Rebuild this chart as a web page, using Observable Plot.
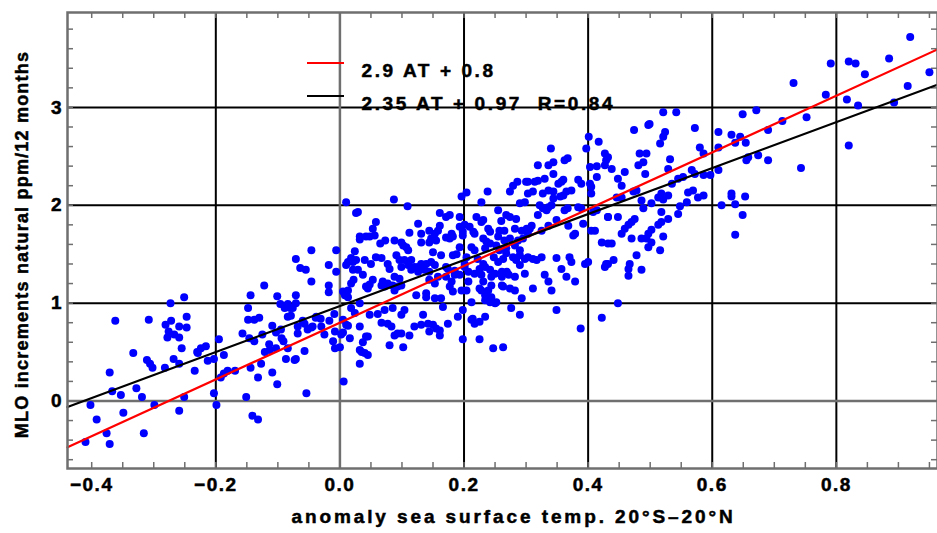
<!DOCTYPE html>
<html><head><meta charset="utf-8">
<script src="https://cdn.jsdelivr.net/npm/d3@7"></script>
<script src="https://cdn.jsdelivr.net/npm/@observablehq/plot@0.6"></script>
<style>
html,body{margin:0;padding:0;background:#fff;}
#chart{position:relative;width:937px;height:533px;}
</style></head><body><div id="chart"></div>
<script>
// anomaly sea surface temp (x) vs MLO increments natural ppm/12 months (y)
const pointsA = [[-0.410,-0.42],[-0.402,-0.04],[-0.392,-0.19],[-0.376,-0.33],[-0.371,-0.44],[-0.371,0.29],[-0.367,0.10],[-0.362,0.82],[-0.353,0.06],[-0.349,-0.12],[-0.333,0.49],[-0.328,0.13],[-0.319,0.04],[-0.316,-0.33],[-0.311,0.42],[-0.308,0.83],[-0.306,0.38],[-0.302,0.34],[-0.299,-0.04],[-0.282,0.34],[-0.273,1.00],[-0.281,0.78],[-0.272,0.82],[-0.276,0.71],[-0.278,0.65],[-0.267,0.68],[-0.259,0.65],[-0.259,0.76],[-0.251,1.06],[-0.247,0.86],[-0.247,0.75],[-0.255,0.54],[-0.268,0.43],[-0.259,0.38],[-0.259,-0.10],[-0.251,0.04],[-0.234,0.31],[-0.230,0.50],[-0.224,0.54],[-0.216,0.56],[-0.213,0.41],[-0.203,0.43],[-0.203,0.08],[-0.199,-0.04],[-0.229,0.49]];
const pointsB = [[-0.195,0.63],[-0.187,0.47],[-0.192,0.24],[-0.187,0.28],[-0.181,0.31],[-0.169,0.31],[-0.157,0.69],[-0.151,0.04],[-0.148,0.95],[-0.144,1.08],[-0.148,0.83],[-0.138,0.83],[-0.130,0.85],[-0.146,0.64],[-0.138,0.61],[-0.144,0.34],[-0.141,-0.15],[-0.132,-0.19],[-0.132,0.24],[-0.127,0.38],[-0.122,1.18],[-0.125,0.68],[-0.109,0.77],[-0.114,0.58],[-0.109,0.29],[-0.103,0.54],[-0.101,0.17],[-0.101,1.07],[-0.096,0.99],[-0.089,0.95],[-0.080,0.95],[-0.084,0.99],[-0.095,0.73],[-0.094,0.64],[-0.091,0.61],[-0.084,0.54],[-0.087,0.43],[-0.079,0.87],[-0.071,1.45],[-0.071,1.08],[-0.071,1.00],[-0.071,0.43],[-0.068,0.69],[-0.068,0.76],[-0.064,1.36],[-0.055,1.34],[-0.060,0.82],[-0.057,0.51],[-0.054,0.08],[-0.046,1.54],[-0.046,1.22],[-0.046,0.75],[-0.039,0.85],[-0.031,0.84],[-0.025,0.68],[-0.018,1.39],[-0.018,1.18],[-0.018,1.11],[-0.017,0.82],[-0.011,0.61],[-0.006,1.54],[-0.006,1.32],[-0.009,0.89],[-0.008,0.71],[-0.008,0.54],[-0.076,0.95],[-0.084,0.86],[-0.038,0.86],[-0.030,0.76],[-0.052,0.73],[-0.044,0.76],[-0.057,0.79],[-0.103,0.70],[-0.113,0.52],[-0.121,0.50],[-0.073,0.42]];
const pointsC = [[0.010,2.03],[0.026,1.92],[0.029,1.93],[0.032,1.68],[0.032,1.65],[0.024,1.53],[0.018,1.46],[0.013,1.42],[0.010,1.39],[0.021,1.42],[0.026,1.44],[0.040,1.44],[0.042,1.68],[0.021,1.34],[0.029,1.34],[0.037,1.29],[0.022,1.24],[0.018,1.20],[0.042,1.17],[0.005,1.12],[0.008,1.08],[0.013,1.06],[0.013,1.13],[0.032,1.00],[0.018,0.95],[0.024,0.90],[0.010,0.78],[0.013,0.77],[0.005,0.83],[0.032,0.76],[0.016,0.64],[0.042,0.66],[0.037,0.60],[0.005,0.70],[0.002,0.68],[0.032,0.52],[0.035,0.50],[0.040,0.49],[0.032,0.38],[0.006,0.20],[0.000,0.55]];
const pointsD = [[0.087,2.06],[0.109,1.99],[0.161,1.92],[0.171,1.88],[0.058,1.83],[0.126,1.81],[0.053,1.76],[0.056,1.69],[0.048,1.68],[0.161,1.79],[0.158,1.74],[0.144,1.74],[0.131,1.71],[0.153,1.71],[0.112,1.72],[0.065,1.61],[0.073,1.64],[0.088,1.64],[0.099,1.62],[0.107,1.57],[0.110,1.54],[0.102,1.59],[0.131,1.62],[0.147,1.66],[0.155,1.64],[0.144,1.62],[0.171,1.67],[0.150,1.52],[0.163,1.49],[0.058,1.47],[0.067,1.46],[0.050,1.40],[0.091,1.49],[0.077,1.40],[0.080,1.35],[0.096,1.44],[0.099,1.37],[0.104,1.44],[0.115,1.44],[0.110,1.39],[0.120,1.37],[0.126,1.37],[0.131,1.40],[0.139,1.40],[0.147,1.42],[0.153,1.39],[0.115,1.34],[0.126,1.32],[0.136,1.34],[0.144,1.32],[0.053,1.24],[0.069,1.22],[0.067,1.18],[0.072,1.17],[0.077,1.20],[0.085,1.18],[0.088,1.13],[0.093,1.17],[0.099,1.18],[0.088,1.27],[0.096,1.25],[0.045,1.15],[0.048,1.19],[0.158,1.27],[0.171,1.27],[0.144,1.24],[0.153,1.20],[0.123,1.08],[0.139,1.10],[0.139,1.06],[0.153,1.05],[0.163,1.05],[0.166,0.96],[0.048,0.88],[0.061,0.89],[0.072,0.93],[0.085,0.95],[0.067,0.80],[0.077,0.79],[0.083,0.76],[0.099,0.88],[0.104,0.93],[0.134,0.88],[0.131,0.78],[0.120,0.76],[0.142,0.79],[0.150,0.78],[0.155,0.74],[0.161,0.72],[0.144,0.71],[0.161,0.67],[0.088,0.67],[0.093,0.69],[0.099,0.69],[0.112,0.67],[0.102,0.55],[0.080,0.57],[0.045,0.66],[0.045,0.47],[0.171,1.37]];
const pointsE = [[0.196,2.09],[0.204,2.13],[0.238,2.14],[0.274,2.14],[0.279,2.20],[0.286,2.24],[0.300,2.24],[0.228,2.03],[0.290,2.02],[0.298,2.03],[0.177,1.90],[0.193,1.88],[0.255,1.95],[0.268,1.90],[0.260,1.84],[0.274,1.88],[0.284,1.86],[0.220,1.88],[0.228,1.83],[0.231,1.85],[0.193,1.78],[0.201,1.80],[0.209,1.78],[0.215,1.73],[0.198,1.73],[0.180,1.71],[0.239,1.76],[0.242,1.73],[0.257,1.74],[0.265,1.74],[0.282,1.76],[0.293,1.74],[0.301,1.76],[0.182,1.68],[0.177,1.66],[0.198,1.69],[0.217,1.71],[0.231,1.66],[0.236,1.63],[0.255,1.68],[0.265,1.64],[0.274,1.66],[0.287,1.64],[0.295,1.66],[0.193,1.57],[0.188,1.50],[0.182,1.49],[0.212,1.57],[0.217,1.54],[0.234,1.56],[0.252,1.59],[0.257,1.54],[0.268,1.56],[0.282,1.59],[0.290,1.54],[0.242,1.61],[0.204,1.47],[0.201,1.40],[0.222,1.45],[0.231,1.40],[0.248,1.47],[0.255,1.42],[0.263,1.45],[0.268,1.51],[0.279,1.47],[0.284,1.44],[0.290,1.49],[0.298,1.45],[0.303,1.47],[0.290,1.39],[0.174,1.35],[0.185,1.33],[0.185,1.29],[0.193,1.29],[0.201,1.37],[0.207,1.32],[0.217,1.30],[0.225,1.35],[0.234,1.37],[0.242,1.34],[0.228,1.29],[0.250,1.30],[0.261,1.27],[0.269,1.32],[0.272,1.29],[0.282,1.27],[0.261,1.32],[0.298,1.30],[0.180,1.22],[0.177,1.17],[0.182,1.12],[0.196,1.13],[0.207,1.22],[0.231,1.22],[0.244,1.27],[0.225,1.15],[0.228,1.13],[0.239,1.13],[0.244,1.18],[0.261,1.18],[0.263,1.17],[0.274,1.15],[0.282,1.13],[0.234,1.08],[0.244,1.06],[0.242,1.01],[0.234,1.03],[0.250,1.00],[0.252,1.01],[0.293,1.05],[0.204,1.13],[0.212,1.01],[0.198,0.93],[0.190,0.86],[0.214,0.84],[0.212,0.83],[0.217,0.79],[0.225,0.81],[0.234,0.86],[0.276,0.95],[0.290,0.88],[0.174,0.79],[0.198,0.63],[0.225,0.63],[0.247,0.54],[0.263,0.55]];
const pointsF = [[0.340,2.58],[0.401,2.70],[0.417,2.65],[0.397,2.58],[0.427,2.53],[0.429,2.46],[0.362,2.46],[0.367,2.48],[0.344,2.44],[0.336,2.41],[0.319,2.41],[0.344,2.32],[0.330,2.27],[0.403,2.39],[0.414,2.40],[0.427,2.41],[0.414,2.29],[0.303,2.24],[0.314,2.24],[0.319,2.25],[0.352,2.22],[0.360,2.26],[0.357,2.24],[0.384,2.26],[0.389,2.22],[0.403,2.22],[0.303,2.12],[0.311,2.14],[0.327,2.12],[0.336,2.15],[0.344,2.14],[0.373,2.15],[0.365,2.14],[0.344,2.07],[0.355,2.09],[0.360,2.10],[0.405,2.12],[0.405,2.19],[0.322,2.00],[0.327,1.97],[0.336,1.98],[0.341,2.00],[0.333,1.95],[0.362,1.95],[0.367,1.97],[0.384,1.98],[0.389,1.97],[0.408,1.93],[0.414,1.95],[0.432,1.88],[0.319,1.90],[0.309,1.79],[0.306,1.76],[0.303,1.71],[0.349,1.85],[0.392,1.81],[0.405,1.74],[0.411,1.74],[0.325,1.74],[0.336,1.79],[0.368,1.79],[0.376,1.69],[0.379,1.71],[0.422,1.62],[0.432,1.61],[0.311,1.45],[0.317,1.44],[0.325,1.47],[0.349,1.46],[0.370,1.47],[0.373,1.42],[0.357,1.35],[0.365,1.27],[0.379,1.22],[0.330,1.29],[0.336,1.22],[0.341,1.13],[0.311,1.15],[0.395,1.40],[0.400,1.42],[0.427,1.37],[0.429,1.40],[0.349,0.93],[0.422,0.85],[0.388,0.74]];
const pointsG = [[0.521,2.95],[0.542,2.95],[0.497,2.82],[0.499,2.83],[0.474,2.77],[0.524,2.75],[0.521,2.70],[0.516,2.63],[0.432,2.49],[0.438,2.37],[0.483,2.53],[0.494,2.53],[0.489,2.44],[0.481,2.41],[0.492,2.32],[0.532,2.47],[0.529,2.37],[0.459,2.34],[0.448,2.27],[0.454,2.20],[0.478,2.15],[0.473,2.14],[0.454,2.08],[0.446,2.08],[0.486,2.05],[0.489,1.97],[0.502,2.02],[0.513,2.08],[0.521,2.06],[0.529,2.10],[0.518,2.12],[0.535,2.22],[0.545,2.27],[0.553,2.29],[0.548,1.99],[0.545,1.91],[0.559,2.03],[0.518,1.93],[0.432,1.88],[0.448,1.88],[0.529,1.86],[0.518,1.83],[0.513,1.80],[0.502,1.75],[0.497,1.71],[0.475,1.86],[0.470,1.83],[0.465,1.80],[0.459,1.76],[0.454,1.71],[0.521,1.68],[0.470,1.66],[0.486,1.66],[0.494,1.66],[0.502,1.62],[0.497,1.57],[0.516,1.54],[0.438,1.61],[0.441,1.44],[0.432,1.40],[0.478,1.49],[0.467,1.40],[0.465,1.35],[0.465,1.28],[0.486,1.34],[0.448,1.00]];
const pointsH = [[0.649,2.93],[0.671,2.97],[0.572,2.79],[0.610,2.75],[0.631,2.72],[0.645,2.70],[0.637,2.64],[0.654,2.64],[0.690,2.77],[0.580,2.59],[0.586,2.53],[0.610,2.59],[0.655,2.46],[0.658,2.49],[0.674,2.51],[0.690,2.46],[0.567,2.36],[0.572,2.32],[0.586,2.31],[0.597,2.31],[0.610,2.36],[0.569,2.15],[0.561,2.13],[0.577,2.08],[0.586,2.10],[0.631,2.12],[0.631,2.09],[0.653,2.09],[0.615,2.00],[0.637,2.01],[0.649,1.90],[0.637,1.70]];
const pointsI = [[0.791,3.45],[0.820,3.47],[0.831,3.45],[0.731,3.25],[0.783,3.13],[0.817,3.08],[0.835,3.02],[0.713,2.86],[0.752,2.90],[0.743,2.38],[0.820,2.61]];
const pointsJ = [[0.919,3.72],[0.885,3.50],[0.846,3.34],[0.950,3.36],[0.915,3.22],[0.893,3.05]];

const points = [...pointsA, ...pointsB, ...pointsC, ...pointsD, ...pointsE, ...pointsF, ...pointsG, ...pointsH, ...pointsI, ...pointsJ];

// fits
const fitLabels = ["2.9 AT + 0.8", "2.35 AT + 0.97  R=0.84"];
const fitSlopes = [2.9, 2.35];
const fitIntercepts = [0.8, 0.97];

// axes
const xTicks = [-0.4, -0.2, 0, 0.2, 0.4, 0.6, 0.8];
const xTickLabels = ["\u22120.4", "\u22120.2", "0.0", "0.2", "0.4", "0.6", "0.8"];
const yTicks = [0, 1, 2, 3];
const yTickLabels = ["0", "1", "2", "3"];
const xGrid = [-0.2, 0.2, 0.4, 0.6, 0.8];
const yGrid = [1, 2, 3];
const xMinor = [-0.4,-0.35,-0.3,-0.25,-0.2,-0.15,-0.1,-0.05,0,0.05,0.1,0.15,0.2,0.25,0.3,0.35,0.4,0.45,0.5,0.55,0.6,0.65,0.7,0.75,0.8,0.85,0.9,0.95];
const yMinor = [-0.6,-0.4,-0.2,0,0.2,0.4,0.6,0.8,1,1.2,1.4,1.6,1.8,2,2.2,2.4,2.6,2.8,3,3.2,3.4,3.6,3.8];
const xDomain = [-0.439, 0.963];
const yDomain = [-0.69, 3.97];
const xLabel = "anomaly sea surface temp. 20°S–20°N";
const yLabel = "MLO increments natural ppm/12 months";

const fitLine = (i) => xDomain.map(x => ({x, y: fitSlopes[i] * x + fitIntercepts[i]}));

const W = 937, H = 533, mL = 67, mR = 0, mT = 12, mB = 65;
const plotW = W - mL - mR, plotH = H - mT - mB;
const gray = "#6f6f6f";
const font = "'Liberation Sans', Arial, sans-serif";
const tickTable = xTicks.map((v, i) => ({v, label: xTickLabels[i]}));
const yTickTable = yTicks.map((v, i) => ({v, label: yTickLabels[i]}));

const chart = Plot.plot({
  width: W, height: H,
  marginLeft: mL, marginRight: mR, marginTop: mT, marginBottom: mB,
  x: {domain: xDomain, axis: null},
  y: {domain: yDomain, axis: null},
  style: {fontFamily: font, background: "white", overflow: "visible"},
  marks: [
    Plot.ruleX(xGrid, {stroke: "black", strokeWidth: 2}),
    Plot.ruleY(yGrid, {stroke: "black", strokeWidth: 2}),
    Plot.ruleX([0], {stroke: gray, strokeWidth: 2.5}),
    Plot.ruleY([0], {stroke: gray, strokeWidth: 2.5}),
    Plot.tickX(xMinor, {x: d => d, stroke: gray, strokeWidth: 1.5, insetTop: plotH - 6}),
    Plot.tickX(xMinor, {x: d => d, stroke: gray, strokeWidth: 1.5, insetBottom: plotH - 6}),
    Plot.tickY(yMinor, {y: d => d, stroke: gray, strokeWidth: 1.5, insetRight: plotW - 6}),
    Plot.tickY(yMinor, {y: d => d, stroke: gray, strokeWidth: 1.5, insetLeft: plotW - 6}),
    Plot.dot(points, {x: d => d[0], y: d => d[1], r: 4, fill: "#0000ff", stroke: "none"}),
    Plot.line(fitLine(0), {x: "x", y: "y", stroke: "#ff0000", strokeWidth: 2.2}),
    Plot.line(fitLine(1), {x: "x", y: "y", stroke: "black", strokeWidth: 2.2}),
    Plot.text(tickTable, {x: "v", text: "label", frameAnchor: "bottom", dy: 22, textAnchor: "middle", fontSize: 19, fontWeight: "bold", fill: "black"}),
    Plot.text(yTickTable, {y: "v", text: "label", frameAnchor: "left", dx: -6, textAnchor: "end", fontSize: 19, fontWeight: "bold", fill: "black"}),
    Plot.text([xLabel], {text: d => d, frameAnchor: "bottom", dx: 11, dy: 54, textAnchor: "middle", fontSize: 19, fontWeight: "bold", fill: "black"}),
    Plot.text([yLabel], {text: d => d, frameAnchor: "left", dx: -45, dy: 4, textAnchor: "middle", rotate: -90, fontSize: 18, fontWeight: "bold", fill: "black"}),
    Plot.text([fitLabels[0]], {text: d => d, frameAnchor: "top-left", dx: 294, dy: 51, textAnchor: "start", fontSize: 19, fontWeight: "bold", fill: "black"}),
    Plot.text([fitLabels[1]], {text: d => d, frameAnchor: "top-left", dx: 294, dy: 84, textAnchor: "start", fontSize: 19, fontWeight: "bold", fill: "black"}),
    Plot.frame({stroke: gray, strokeWidth: 2.5})
  ]
});

document.getElementById("chart").appendChild(chart);

// letter spacing and heavier weight of texts (Mathematica-style)
chart.querySelectorAll("text").forEach(t => {
  const s = t.textContent;
  t.setAttribute("stroke", "black");
  t.setAttribute("stroke-width", "0.5");
  if (s === xLabel) t.setAttribute("letter-spacing", "2.9px");
  else if (s === yLabel) t.setAttribute("letter-spacing", "1.2px");
  else if (fitLabels.includes(s)) t.setAttribute("letter-spacing", "2.6px");
  else if (xTickLabels.includes(s)) t.setAttribute("letter-spacing", "1.5px");
});

// legend keys
const svg = d3.select(chart);
const keyColors = ["#ff0000", "black"];
const keyY = [mT + 51, mT + 84];
keyColors.forEach((c, i) => {
  svg.append("line").attr("x1", 307).attr("x2", 344).attr("y1", keyY[i]).attr("y2", keyY[i])
    .attr("stroke", c).attr("stroke-width", 2);
});
</script>
</body></html>
